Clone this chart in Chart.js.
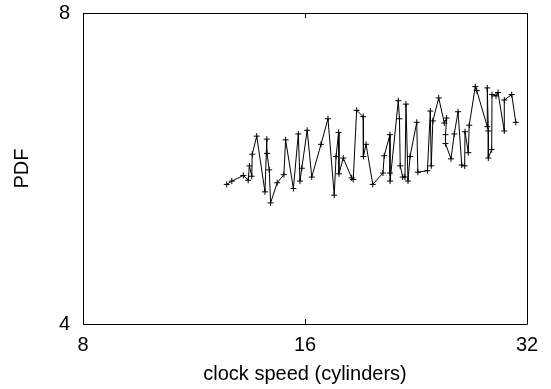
<!DOCTYPE html>
<html>
<head>
<meta charset="utf-8">
<script src="https://cdn.jsdelivr.net/npm/chart.js@4/dist/chart.umd.min.js"></script>
<style>
  html, body { margin: 0; padding: 0; background: #fff; }
  canvas { display: block; }
</style>
</head>
<body>
<canvas id="chart" width="551" height="389"></canvas>
<script>
// values
var clockSpeed = [
	12.53, 12.73, 13.20, 13.40, 13.45, 13.55, 13.57, 13.76, 14.12, 14.20,
	14.21, 14.31, 14.37, 14.67, 14.98, 15.06, 15.43, 15.67, 15.75, 15.84,
	16.11, 16.34, 16.82, 17.19, 17.53, 17.63, 17.77, 17.79, 18.03, 18.51,
	18.60, 18.80, 19.19, 19.20, 19.36, 19.77, 20.41, 20.49, 20.86, 20.86,
	20.87, 21.41, 21.49, 21.54, 21.71, 21.86, 21.93, 22.07, 22.21, 22.68,
	22.76, 23.45, 23.66, 23.73, 23.85, 24.29, 24.72, 24.90, 24.81, 24.81,
	25.24, 25.50, 25.80, 26.10, 26.34, 26.37, 26.64, 26.72, 27.23, 27.35,
	28.27, 28.27, 28.36, 28.36, 28.66, 28.69, 29.05, 29.23, 29.81, 29.81,
	30.51, 30.90
];
var pdf = [
	5.46, 5.50, 5.57, 5.51, 5.69, 5.56, 5.84, 6.08, 5.37, 6.04,
	5.85, 5.64, 5.24, 5.48, 5.58, 6.03, 5.41, 6.11, 5.50, 5.66,
	6.16, 5.55, 5.97, 6.32, 5.33, 5.81, 6.13, 5.59, 5.79, 5.54,
	5.52, 6.44, 6.35, 5.81, 5.97, 5.46, 5.60, 5.82, 6.10, 5.60,
	5.50, 6.58, 6.32, 5.69, 5.55, 5.55, 6.53, 5.50, 5.81, 6.27,
	5.61, 5.63, 6.43, 5.69, 6.29, 6.62, 6.26, 6.33, 6.10, 5.98,
	5.78, 6.11, 6.42, 5.70, 5.69, 6.14, 5.86, 6.23, 6.79, 6.73,
	6.21, 6.77, 6.15, 5.79, 5.90, 6.67, 6.65, 6.70, 6.15, 6.59,
	6.67, 6.27
];
var xTicks = [8, 16, 32];
var yTicks = [4, 8];
var xTitle = 'clock speed (cylinders)';
var yTitle = 'PDF';

var FONT = { family: '"Liberation Sans", Arial, sans-serif', size: 20 };

// box round the plot area plus small inward tick marks, gnuplot style
var frame = {
	id: 'frame',
	afterDraw: function (chart) {
		var a = chart.chartArea;
		var ctx = chart.ctx;
		var sx = chart.scales.x, sy = chart.scales.y;
		ctx.save();
		ctx.strokeStyle = '#000';
		ctx.lineWidth = 1;
		ctx.beginPath();
		ctx.rect(Math.round(a.left) + 0.5, Math.round(a.top) + 0.5,
			Math.round(a.right - a.left), Math.round(a.bottom - a.top));
		xTicks.forEach(function (v) {
			var px = Math.round(sx.getPixelForValue(v)) + 0.5;
			ctx.moveTo(px, a.bottom); ctx.lineTo(px, a.bottom - 5);
			ctx.moveTo(px, a.top); ctx.lineTo(px, a.top + 5);
		});
		yTicks.forEach(function (v) {
			var py = Math.round(sy.getPixelForValue(v)) + 0.5;
			ctx.moveTo(a.left, py); ctx.lineTo(a.left + 5, py);
			ctx.moveTo(a.right, py); ctx.lineTo(a.right - 5, py);
		});
		ctx.stroke();
		ctx.restore();
	}
};

var points = clockSpeed.map(function (x, i) {
	return { x: x, y: pdf[i] };
});

new Chart(document.getElementById('chart'), {
	type: 'scatter',
	data: {
		datasets: [{
			data: points,
			showLine: true,
			borderColor: '#000',
			backgroundColor: '#000',
			borderWidth: 1,
			tension: 0,
			pointStyle: 'cross',
			pointRadius: 3,
			pointBorderWidth: 1,
			pointBorderColor: '#000'
		}]
	},
	options: {
		responsive: false,
		animation: false,
		layout: { padding: { top: 13, right: 24, bottom: 0, left: 0 } },
		plugins: {
			legend: { display: false },
			tooltip: { enabled: false }
		},
		scales: {
			x: {
				type: 'logarithmic',
				position: 'bottom',
				min: 8,
				max: 32,
				afterBuildTicks: function (s) {
					s.ticks = xTicks.map(function (v) { return { value: v }; });
				},
				afterFit: function (s) {
					s.height = 65;
					s.paddingLeft = 0;
					s.paddingRight = 0;
				},
				grid: { display: false, drawTicks: false },
				border: { display: false },
				ticks: {
					color: '#000',
					font: FONT,
					padding: 9,
					maxRotation: 0,
					autoSkip: false,
					callback: function (v) { return String(v); }
				},
				title: {
					display: true,
					text: xTitle,
					color: '#000',
					font: FONT,
					padding: { top: 3, bottom: 3 }
				}
			},
			y: {
				type: 'logarithmic',
				position: 'left',
				min: 4,
				max: 8,
				afterBuildTicks: function (s) {
					s.ticks = yTicks.map(function (v) { return { value: v }; });
				},
				afterFit: function (s) {
					s.width = 83;
					s.paddingTop = 0;
					s.paddingBottom = 0;
				},
				grid: { display: false, drawTicks: false },
				border: { display: false },
				ticks: {
					color: '#000',
					font: FONT,
					padding: 13,
					autoSkip: false,
					callback: function (v) { return String(v); }
				},
				title: {
					display: true,
					text: yTitle,
					color: '#000',
					font: FONT,
					padding: { top: 10, bottom: 10 }
				}
			}
		}
	},
	plugins: [frame]
});
</script>
</body>
</html>
